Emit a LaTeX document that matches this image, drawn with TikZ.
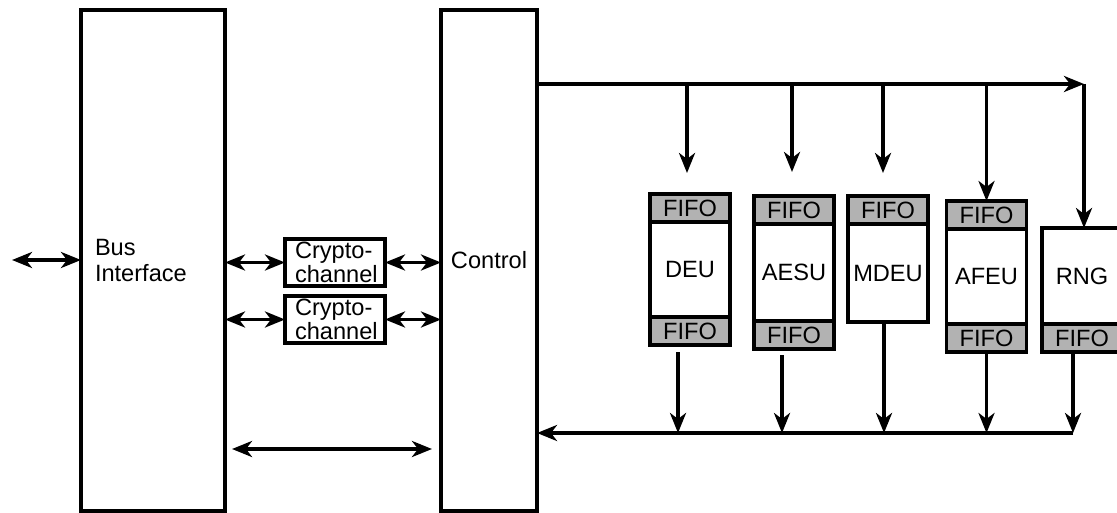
\documentclass[tikz,border=0pt]{standalone}
\usepackage{fontspec}
\setmainfont{Liberation Sans}
\usepackage{xcolor}
\usetikzlibrary{arrows.meta,positioning}
\definecolor{fifogray}{gray}{0.7}

\begin{document}
\begin{tikzpicture}[
  x=0.5pt, y=-0.5pt,
  font=\fontsize{11.8}{13.4}\selectfont,
  line width=1.8pt,
  bigbox/.style={draw, outer sep=0pt, inner sep=0pt, minimum height=250.5pt},
  cryptobox/.style={draw, outer sep=0pt, inner xsep=5pt, inner ysep=0pt, text width=40pt, align=left, minimum height=23.5pt, font=\fontsize{11.8}{12.2}\selectfont},
  unitbox/.style={draw, fill=white, outer sep=0pt, inner sep=0pt, minimum width=40pt},
  fifobox/.style={draw, fill=fifogray, outer sep=0pt, inner sep=0pt, minimum width=40pt, minimum height=14pt},
  arr/.style={-{Stealth[length=10pt,width=8pt,inset=3pt]}},
  dbl/.style={{Stealth[length=10pt,width=8pt,inset=3pt]}-{Stealth[length=10pt,width=8pt,inset=3pt]}}
]
\useasboundingbox (0,0) rectangle (1117,513);

% main blocks
\node[bigbox, minimum width=72pt, inner xsep=7pt, text width=58pt, align=left] (bus) at (153,260.5) {Bus\\Interface};
\node[bigbox, minimum width=48pt] (ctrl) at (489,260.5) {Control};

\node[cryptobox] (cc1) at (335,262.5) {Crypto-\\channel};
\node[cryptobox, below=5pt of cc1] (cc2) {Crypto-\\channel};

% execution units
\node[unitbox, minimum height=47.5pt] (deu) at (690,269.5) {DEU};
\node[fifobox, above=0pt of deu] (deutop) {FIFO};
\node[fifobox, below=0pt of deu] (deubot) {FIFO};

\node[unitbox, minimum height=48.5pt] (aesu) at (794,272.5) {AESU};
\node[fifobox, above=0pt of aesu] (aesutop) {FIFO};
\node[fifobox, below=0pt of aesu] (aesubot) {FIFO};

\node[unitbox, minimum height=49pt] (mdeu) at (888,273) {MDEU};
\node[fifobox, above=0pt of mdeu] (mdeutop) {FIFO};

\node[unitbox, minimum height=47.5pt] (afeu) at (986.5,276.5) {AFEU};
\node[fifobox, above=0pt of afeu] (afeutop) {FIFO};
\node[fifobox, below=0pt of afeu] (afeubot) {FIFO};

\node[unitbox, minimum height=48pt] (rng) at (1082,276) {RNG};
\node[fifobox, below=0pt of rng] (rngbot) {FIFO};

% host side
\coordinate (ext) at (12,260);
\draw[dbl] (ext) -- (ext -| bus.west);
\draw[dbl] (bus.east |- cc1) -- (cc1.west);
\draw[dbl] (cc1.east) -- (cc1.east -| ctrl.west);
\draw[dbl] (bus.east |- cc2) -- (cc2.west);
\draw[dbl] (cc2.east) -- (cc2.east -| ctrl.west);
\coordinate (low) at (332,449);
\draw[dbl, shorten <=3.5pt, shorten >=4.5pt] (bus.east |- low) -- (ctrl.west |- low);

% top bus
\coordinate (tbend) at (1084,84);
\coordinate (deuin) at ([xshift=-1.5pt,yshift=10.5pt]deutop.north);
\coordinate (aesuin) at ([xshift=-1pt,yshift=12pt]aesutop.north);
\coordinate (mdeuin) at ([xshift=-2.5pt,yshift=11.5pt]mdeutop.north);
\draw[arr] (ctrl.east |- tbend) -- (tbend);
\draw[arr] (deuin |- tbend) -- (deuin);
\draw[arr] (aesuin |- tbend) -- (aesuin);
\draw[arr] (mdeuin |- tbend) -- (mdeuin);
\draw[arr] (afeutop.north |- tbend) -- (afeutop.north);
\draw[arr] (tbend) -- (tbend |- rng.north);

% bottom bus
\coordinate (deuout) at ([xshift=-6pt,yshift=-3.5pt]deubot.south);
\coordinate (aesuout) at ([xshift=-6pt,yshift=-3pt]aesubot.south);
\coordinate (mdeuout) at ([xshift=-2pt]mdeu.south);
\coordinate (rngout) at ([xshift=-4.5pt]rngbot.south);
\coordinate (bbus) at (rngout |- 0,433);
\draw[arr] (deuout) -- (deuout |- bbus);
\draw[arr] (aesuout) -- (aesuout |- bbus);
\draw[arr] (mdeuout) -- (mdeuout |- bbus);
\draw[arr] (afeubot.south) -- (afeubot.south |- bbus);
\draw[arr] (rngout) -- (bbus);
\draw[arr] (bbus) -- (bbus -| ctrl.east);
\end{tikzpicture}
\end{document}
